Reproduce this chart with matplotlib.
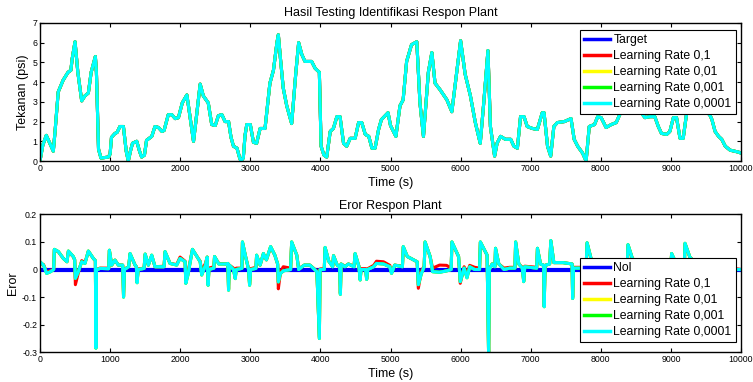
import numpy as np
import matplotlib
matplotlib.use('Agg')
import matplotlib.pyplot as plt

plt.rcParams['font.family'] = ['Liberation Sans', 'DejaVu Sans']

# data tekanan target (psi) terhadap waktu (s)
waktu = [0, 40, 90, 140, 190, 215, 260, 330, 400, 440,
         460, 500, 540, 595, 640, 690, 730, 790, 805, 835,
         870, 975, 1000, 1020, 1070, 1100, 1140, 1190, 1230, 1260,
         1290, 1320, 1380, 1420, 1450, 1490, 1520, 1595, 1640, 1690,
         1740, 1770, 1830, 1880, 1930, 1975, 2030, 2095, 2130, 2190,
         2230, 2285, 2330, 2400, 2450, 2500, 2545, 2595, 2640, 2690,
         2725, 2760, 2810, 2845, 2865, 2900, 2925, 2950, 3000, 3045,
         3090, 3140, 3210, 3280, 3330, 3380, 3400, 3430, 3470, 3520,
         3590, 3650, 3690, 3735, 3780, 3875, 3925, 3985, 4010, 4050,
         4090, 4140, 4185, 4235, 4280, 4330, 4375, 4425, 4495, 4545,
         4590, 4640, 4690, 4735, 4780, 4830, 4870, 4965, 5000, 5077,
         5135, 5180, 5230, 5300, 5375, 5420, 5470, 5540, 5590, 5635,
         5710, 5805, 5875, 5925, 6000, 6065, 6140, 6210, 6280, 6330,
         6390, 6425, 6485, 6520, 6570, 6640, 6715, 6760, 6810, 6855,
         6905, 6950, 7025, 7095, 7165, 7190, 7240, 7285, 7330, 7380,
         7480, 7575, 7620, 7670, 7740, 7790, 7835, 7910, 7955, 8005,
         8075, 8150, 8220, 8300, 8400, 8500, 8630, 8700, 8770, 8820,
         8865, 8940, 8985, 9035, 9080, 9130, 9175, 9225, 9300, 9450,
         9560, 9585, 9630, 9680, 9725, 9775, 9845, 9965, 10000]
tekanan = [0.0, 0.8, 1.3, 0.9, 0.5, 1.5, 3.5, 4.1, 4.5, 4.6,
           5.2, 6.05, 4.5, 3.05, 3.3, 3.45, 4.5, 5.3, 4.5, 0.6,
           0.15, 0.2, 0.35, 1.2, 1.4, 1.45, 1.75, 1.75, 0.5, 0.0,
           0.5, 0.9, 1.0, 0.5, 0.2, 0.3, 1.05, 1.25, 1.75, 1.7,
           1.5, 1.55, 2.35, 2.35, 2.15, 2.2, 2.95, 3.35, 2.5, 1.0,
           2.2, 3.9, 3.3, 2.95, 1.85, 1.8, 2.3, 2.35, 2.0, 2.0,
           1.2, 0.75, 0.65, 0.2, 0.0, 0.15, 1.3, 1.85, 1.85, 0.95,
           0.9, 1.65, 1.65, 3.95, 4.6, 6.0, 6.4, 5.2, 3.7, 2.8,
           1.9, 4.5, 6.0, 5.4, 5.05, 5.05, 4.7, 4.5, 0.75, 0.3,
           0.2, 1.5, 1.65, 2.25, 2.25, 0.9, 0.75, 1.15, 1.15, 1.95,
           1.95, 1.35, 1.25, 0.65, 0.65, 1.6, 2.1, 2.45, 1.8, 1.25,
           2.8, 3.1, 5.05, 5.9, 6.05, 2.95, 1.25, 4.5, 5.5, 3.95,
           3.6, 3.1, 2.5, 3.95, 6.1, 4.4, 3.3, 1.95, 0.9, 2.95,
           5.6, 1.75, 0.25, 0.9, 1.25, 1.1, 1.1, 0.75, 0.65, 2.25,
           2.25, 1.75, 1.65, 1.6, 2.45, 2.45, 0.75, 0.25, 1.75, 1.95,
           2.0, 2.15, 1.1, 0.75, 0.4, 0.0, 1.75, 1.85, 2.25, 2.2,
           1.7, 1.85, 1.95, 2.6, 3.0, 2.8, 2.2, 2.25, 2.25, 1.75,
           1.4, 1.35, 1.5, 2.2, 2.2, 1.15, 1.15, 2.45, 3.0, 2.8,
           2.3, 2.1, 1.5, 1.25, 1.1, 0.75, 0.55, 0.45, 0.4]

# data eror tiap learning rate
waktu_eror = [0, 50, 95, 150, 195, 205, 262, 333, 385, 405,
              475, 495, 505, 547, 595, 642, 690, 761, 790, 798,
              806, 856, 980, 990, 1023, 1070, 1118, 1180, 1192, 1205,
              1265, 1285, 1356, 1375, 1385, 1400, 1485, 1500, 1546, 1594,
              1641, 1770, 1784, 1855, 1950, 1998, 2070, 2080, 2110, 2175,
              2285, 2307, 2360, 2385, 2398, 2410, 2480, 2490, 2550, 2660,
              2680, 2690, 2700, 2760, 2785, 2800, 2880, 2888, 2930, 2975,
              2990, 3005, 3080, 3090, 3140, 3187, 3230, 3290, 3350, 3390,
              3400, 3430, 3470, 3575, 3590, 3663, 3690, 3770, 3850, 3950,
              3985, 3995, 4055, 4067, 4120, 4175, 4187, 4240, 4275, 4285,
              4295, 4350, 4400, 4480, 4495, 4550, 4567, 4580, 4645, 4660,
              4675, 4760, 4800, 4900, 4990, 5015, 5060, 5170, 5182, 5240,
              5380, 5397, 5440, 5480, 5493, 5565, 5600, 5700, 5800, 5865,
              5876, 5971, 5995, 6050, 6091, 6130, 6200, 6270, 6282, 6378,
              6400, 6410, 6450, 6490, 6498, 6545, 6620, 6700, 6775, 6785,
              6830, 6880, 6900, 6915, 7085, 7096, 7140, 7185, 7192, 7205,
              7270, 7287, 7330, 7460, 7590, 7598, 7610, 7790, 7804, 7860,
              7950, 8376, 8388, 8450, 8600, 8995, 9010, 9060, 9190, 9201,
              9270, 9400, 9950, 10000]
eror_lr_0001 = [0.028, 0.016, -0.014, -0.008, 0.0, 0.073, 0.065, 0.040, 0.028, 0.067,
                0.047, 0.035, -0.032, -0.008, 0.028, 0.022, 0.067, 0.040, 0.032, -0.285,
                -0.002, 0.004, 0.003, 0.070, 0.016, 0.034, 0.016, 0.016, -0.100, 0.0,
                0.010, 0.058, 0.016, 0.010, -0.048, 0.0, 0.004, 0.056, 0.016, 0.052,
                0.010, 0.010, 0.065, 0.022, 0.016, 0.040, 0.028, -0.050, -0.020, 0.073,
                0.028, -0.020, 0.015, 0.045, -0.057, 0.0, 0.005, 0.047, 0.020, 0.020,
                0.022, -0.075, 0.016, 0.0, -0.033, 0.0, 0.004, 0.100, 0.050, 0.0,
                -0.057, 0.0, 0.004, 0.052, 0.016, 0.058, 0.035, 0.083, 0.052, 0.020,
                -0.045, -0.015, -0.005, 0.0, 0.100, 0.052, 0.0, 0.016, 0.016, -0.008,
                -0.250, 0.0, 0.0, 0.080, 0.030, 0.010, 0.050, 0.016, 0.010, -0.090,
                0.020, 0.010, 0.020, 0.010, 0.058, 0.010, -0.038, 0.0, 0.0, -0.036,
                0.0, 0.010, 0.022, 0.020, 0.010, -0.014, 0.016, 0.010, 0.083, 0.047,
                0.028, -0.055, -0.015, 0.010, 0.100, 0.047, -0.008, -0.010, -0.005, 0.0,
                0.100, 0.047, -0.044, 0.005, -0.030, 0.010, 0.0, 0.0, 0.100, 0.052,
                -0.320, 0.0, 0.020, 0.010, 0.077, 0.020, 0.0, 0.005, 0.005, 0.100,
                0.020, 0.005, -0.044, 0.010, 0.005, 0.077, 0.020, 0.015, -0.135, 0.015,
                0.020, 0.105, 0.025, 0.025, 0.020, -0.105, 0.005, 0.005, 0.097, 0.040,
                0.010, 0.0, 0.090, 0.040, 0.010, 0.0, 0.058, 0.030, 0.0, 0.095,
                0.045, 0.010, 0.0, 0.0]
eror_lr_1 = [0.022, 0.018, -0.010, -0.004, 0.002, 0.072, 0.064, 0.040, 0.028, 0.066,
             0.046, 0.035, -0.055, -0.012, 0.032, 0.025, 0.066, 0.040, 0.032, -0.280,
             0.0, 0.005, 0.005, 0.068, 0.016, 0.034, 0.016, 0.016, -0.095, 0.002,
             0.010, 0.056, 0.016, 0.010, -0.045, 0.002, 0.005, 0.055, 0.016, 0.050,
             0.010, 0.012, 0.063, 0.022, 0.018, 0.045, 0.030, -0.045, -0.010, 0.072,
             0.030, -0.005, 0.022, 0.045, -0.050, 0.005, 0.010, 0.046, 0.022, 0.020,
             0.022, -0.070, 0.016, 0.005, -0.028, 0.005, 0.005, 0.098, 0.050, 0.003,
             -0.052, 0.003, 0.008, 0.050, 0.016, 0.056, 0.035, 0.081, 0.052, 0.020,
             -0.070, -0.010, 0.010, 0.005, 0.098, 0.052, 0.003, 0.016, 0.016, -0.005,
             -0.245, 0.002, 0.003, 0.078, 0.030, 0.012, 0.050, 0.016, 0.010, -0.085,
             0.020, 0.012, 0.020, 0.012, 0.056, 0.012, -0.035, 0.003, 0.003, -0.033,
             0.003, 0.015, 0.030, 0.028, 0.015, -0.010, 0.016, 0.012, 0.081, 0.047,
             0.028, -0.068, -0.005, 0.012, 0.098, 0.047, 0.005, 0.016, 0.015, 0.005,
             0.098, 0.047, -0.050, 0.010, -0.015, 0.015, 0.008, 0.005, 0.098, 0.052,
             -0.320, 0.003, 0.020, 0.012, 0.075, 0.020, 0.005, 0.008, 0.008, 0.098,
             0.020, 0.008, -0.040, 0.012, 0.008, 0.075, 0.020, 0.015, -0.130, 0.015,
             0.020, 0.103, 0.025, 0.025, 0.020, -0.100, 0.008, 0.008, 0.095, 0.040,
             0.012, 0.003, 0.088, 0.040, 0.012, 0.003, 0.056, 0.030, 0.003, 0.093,
             0.045, 0.012, 0.002, 0.0]
# 0,01 dan 0,001 tertutup oleh garis 0,0001 pada grafik asli
eror_lr_01 = eror_lr_0001
eror_lr_001 = eror_lr_0001

label_lr = ['Learning Rate 0,1', 'Learning Rate 0,01',
            'Learning Rate 0,001', 'Learning Rate 0,0001']
warna_lr = ['#ff0000', '#ffff00', '#00ff00', '#00ffff']

xticks = np.arange(0, 10001, 1000)

fig = plt.figure(figsize=(7.53, 3.82), dpi=100)
ax1 = fig.add_axes([0.0531, 0.5785, 0.931, 0.3613])
ax2 = fig.add_axes([0.0531, 0.0777, 0.931, 0.3613])

# grafik atas: respon plant
ax1.plot(waktu, tekanan, color='#0000ff', lw=2.2, label='Target')
for lab, w in zip(label_lr, warna_lr):
    ax1.plot(waktu, tekanan, color=w, lw=2.2, label=lab)
ax1.set_xlim(0, 10000)
ax1.set_ylim(0, 7)
ax1.set_yticks(range(0, 8))
ax1.set_yticklabels([str(i) for i in range(0, 8)])
ax1.set_title('Hasil Testing Identifikasi Respon Plant', fontsize=9, pad=5)
ax1.set_ylabel('Tekanan (psi)', fontsize=9, labelpad=2)

# grafik bawah: eror
ax2.plot([0, 10000], [0, 0], color='#0000ff', lw=3, label='Nol')
for lab, w, e in zip(label_lr, warna_lr,
                     [eror_lr_1, eror_lr_01, eror_lr_001, eror_lr_0001]):
    ax2.plot(waktu_eror, e, color=w, lw=2.2, label=lab)
ax2.set_xlim(0, 10000)
ax2.set_ylim(-0.3, 0.2)
yt2 = [-0.3, -0.2, -0.1, 0, 0.1, 0.2]
ax2.set_yticks(yt2)
ax2.set_yticklabels(['-0.3', '-0.2', '-0.1', '0', '0.1', '0.2'])
ax2.set_title('Eror Respon Plant', fontsize=9, pad=4)
ax2.set_ylabel('Eror', fontsize=9, labelpad=2)

for ax, top in ((ax1, 0.949), (ax2, 0.683)):
    ax.set_xticks(xticks)
    ax.set_xticklabels([str(x) for x in xticks])
    ax.set_xlabel('Time (s)', fontsize=9, labelpad=3)
    ax.tick_params(direction='in', top=True, right=True, length=3,
                   labelsize=6.3, pad=2)
    for s in ax.spines.values():
        s.set_linewidth(1)
    leg = ax.legend(loc='upper right', bbox_to_anchor=(0.9924, top),
                    fontsize=8.8, fancybox=False, framealpha=1, edgecolor='black',
                    borderpad=0.35, labelspacing=0.32, handlelength=2.15,
                    handletextpad=0.25, borderaxespad=0)
    leg.get_frame().set_linewidth(0.8)
    for h in leg.get_lines():
        h.set_linewidth(2.5)

fig.savefig('out.png', dpi=100)
